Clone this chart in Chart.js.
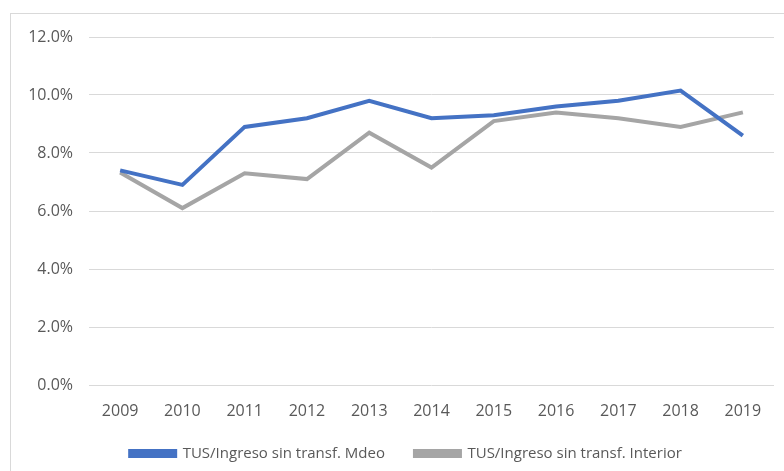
<!DOCTYPE html>
<html>
<head>
<meta charset="utf-8">
<script src="https://cdn.jsdelivr.net/npm/chart.js@4.4.1/dist/chart.umd.min.js"></script>
<style>
    html, body { margin: 0; padding: 0; background: #ffffff; }
    #frame {
        position: absolute; left: 10px; top: 13px; width: 800px; height: 500px;
        border-left: 1px solid #d9d9d9; border-top: 1px solid #d9d9d9;
    }
    #wrap { position: absolute; left: 0; top: 0; width: 784px; height: 471px; }
</style>
</head>
<body>
<div id="frame"></div>
<div id="wrap"><canvas id="tusChart" width="784" height="471"></canvas></div>
<script>
// Years on the category axis
const years = ['2009', '2010', '2011', '2012', '2013', '2014', '2015', '2016', '2017', '2018', '2019'];

// Ratios (fractions)
const mdeoValues = [0.074, 0.069, 0.089, 0.092, 0.098, 0.092, 0.093, 0.096, 0.098, 0.1015, 0.086];
const interiorValues = [0.0733, 0.061, 0.073, 0.071, 0.087, 0.075, 0.091, 0.094, 0.092, 0.089, 0.094];

// Y axis ticks
const yTicks = [0, 0.02, 0.04, 0.06, 0.08, 0.10, 0.12];

const seriesLabels = ['TUS/Ingreso sin transf. Mdeo', 'TUS/Ingreso sin transf. Interior'];

const fontFamily = '"Open Sans", "Noto Sans", sans-serif';

// Nudge the legend box so it is centred like the reference
const legendShift = {
    id: 'legendShift',
    afterLayout(chart) {
        if (chart.legend) chart.legend.left += 38;
    }
};

document.addEventListener('DOMContentLoaded', () => {
    const ctx = document.getElementById('tusChart').getContext('2d');

    new Chart(ctx, {
        type: 'line',
        data: {
            labels: years,
            datasets: [{
                label: seriesLabels[0],
                data: mdeoValues,
                borderColor: '#4472C4',
                backgroundColor: '#4472C4',
                borderWidth: 4,
                pointRadius: 0,
                tension: 0
            }, {
                label: seriesLabels[1],
                data: interiorValues,
                borderColor: '#A5A5A5',
                backgroundColor: '#A5A5A5',
                borderWidth: 4,
                pointRadius: 0,
                tension: 0
            }]
        },
        plugins: [legendShift],
        options: {
            responsive: false,
            animation: false,
            layout: {
                padding: { top: 37, right: 10, bottom: 0, left: 0 }
            },
            plugins: {
                tooltip: { enabled: false },
                legend: {
                    position: 'bottom',
                    labels: {
                        boxWidth: 45,
                        boxHeight: 5,
                        padding: 30,
                        color: '#595959',
                        font: { family: fontFamily, size: 15 }
                    }
                }
            },
            scales: {
                x: {
                    offset: true,
                    grid: { display: false },
                    border: { display: false },
                    ticks: {
                        color: '#595959',
                        padding: 9,
                        maxRotation: 0,
                        font: { family: fontFamily, size: 16 }
                    },
                    afterFit: (scale) => { scale.height = 31; }
                },
                y: {
                    min: 0,
                    max: 0.12,
                    afterBuildTicks: (scale) => {
                        scale.ticks = yTicks.map(v => ({ value: v }));
                    },
                    grid: { color: '#d9d9d9', lineWidth: 1, drawTicks: false },
                    border: { display: false },
                    ticks: {
                        color: '#595959',
                        padding: 16,
                        font: { family: fontFamily, size: 16 },
                        callback: (v) => (v * 100).toFixed(1) + '%'
                    },
                    afterFit: (scale) => { scale.width = 89; }
                }
            }
        }
    });
});
</script>
</body>
</html>
